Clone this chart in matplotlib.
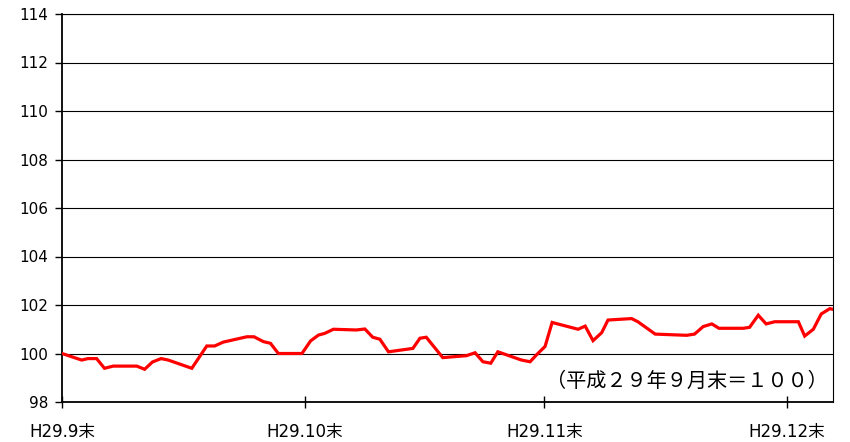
import matplotlib
matplotlib.use("Agg")
import matplotlib.pyplot as plt

plt.rcParams['font.family'] = ['DejaVu Sans', 'Noto Sans CJK JP']

# days counted from the end of September (H29.9末 = 0)
days = [0, 2.5, 3.3, 4.4, 5.4, 6.5, 9.5, 10.5, 11.5, 12.6, 13.5, 16.5, 18.4, 19.4,
        20.5, 23.5, 24.4, 25.6, 26.5, 27.5, 30.5, 31.6, 32.6, 33.4, 34.5, 37.4,
        38.5, 39.5, 40.4, 41.5, 44.6, 45.5, 46.3, 48.4, 51.4, 52.5, 53.5, 54.5,
        55.4, 58.4, 59.5, 60.3, 61.4, 62.3, 65.6, 66.5, 67.5, 68.6, 69.4, 72.4,
        73.2, 75.4, 79.4, 80.4, 81.5, 82.6, 83.5, 86.6, 87.4, 88.5, 89.5, 90.6,
        93.6, 94.4, 95.5, 96.5, 97.6, 98]
index = [100.0, 99.73, 99.79, 99.79, 99.39, 99.48, 99.48, 99.35, 99.65, 99.79,
         99.73, 99.39, 100.31, 100.31, 100.47, 100.69, 100.69, 100.49, 100.42,
         100.0, 100.0, 100.52, 100.76, 100.83, 101.0, 100.97, 101.01, 100.67,
         100.59, 100.07, 100.21, 100.63, 100.67, 99.83, 99.91, 100.03, 99.66,
         99.60, 100.07, 99.73, 99.66, 99.94, 100.29, 101.28, 101.0, 101.13,
         100.53, 100.86, 101.38, 101.44, 101.31, 100.80, 100.75, 100.80, 101.11,
         101.22, 101.04, 101.04, 101.08, 101.58, 101.22, 101.31, 101.31, 100.72,
         101.0, 101.63, 101.85, 101.82]

tick_days = [0, 30.9, 61.3, 92.1]
tick_labels = ['H29.9末', 'H29.10末', 'H29.11末', 'H29.12末']

fig = plt.figure(figsize=(8.5, 4.42), dpi=100)
ax = fig.add_axes([62 / 850, 40 / 442, 771 / 850, 388 / 442])

ax.plot(days, index, color='#ff0000', linewidth=2.3, solid_joinstyle='miter', zorder=3)

ax.set_xlim(0, 98)
ax.set_ylim(98, 114)
ax.set_yticks(range(98, 115, 2))
ax.set_xticks(tick_days)
ax.set_xticklabels(tick_labels)
ax.yaxis.grid(True, color='black', linewidth=0.8)
ax.set_axisbelow(True)

for s in ['top', 'right']:
    ax.spines[s].set_linewidth(0.8)
ax.spines['left'].set_linewidth(1.3)
ax.spines['bottom'].set_linewidth(1.3)

ax.tick_params(axis='y', direction='out', length=5, width=1, labelsize=11, pad=5)
ax.tick_params(axis='x', direction='inout', length=8, width=1, labelsize=12, pad=11)

ax.text(0.993, 0.052, '（平成２９年９月末＝１００）', transform=ax.transAxes,
        ha='right', va='center', fontsize=14.5, family=['Noto Sans CJK JP'])

fig.savefig('out.png', dpi=100)
